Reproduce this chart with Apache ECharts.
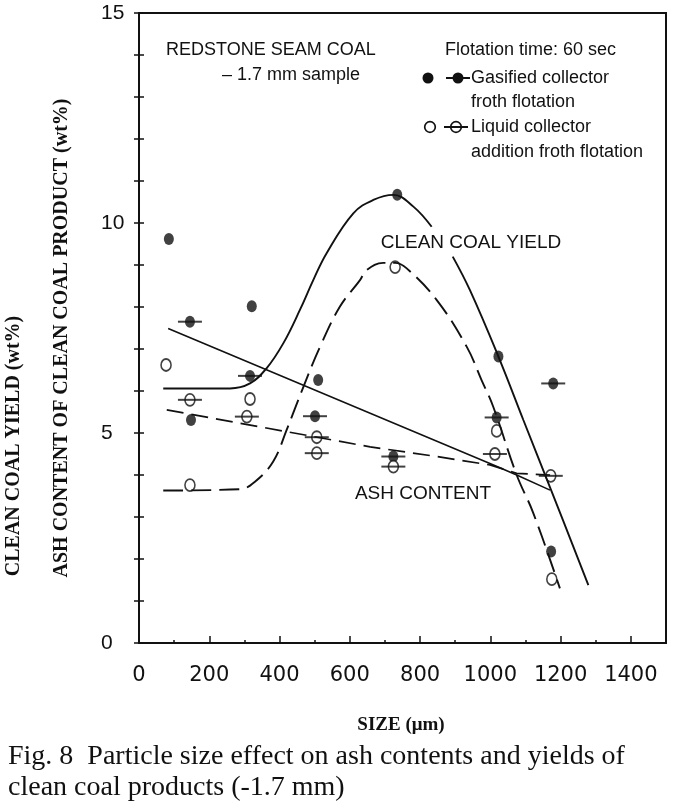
<!DOCTYPE html>
<html>
<head>
<meta charset="utf-8">
<script src="https://cdn.jsdelivr.net/npm/echarts@6/dist/echarts.min.js"></script>
<style>
html,body{margin:0;padding:0;background:#ffffff;}
#chart{width:675px;height:811px;}
</style>
</head>
<body>
<div id="chart"></div>
<script>
// ---- tick labels ----
const xTickLabels = [0, 200, 400, 600, 800, 1000, 1200, 1400];
const yTickLabels = [0, 5, 10, 15];

// ---- measured points: [size (um), value (wt%)] ----
// gasified collector (filled circles)
const gasYieldPts = [[85, 9.62], [148, 5.31], [321, 8.02], [510, 6.26], [735, 10.67], [1023, 6.82], [1173, 2.18]];
const gasAshPts = [[145, 7.65], [316, 6.36], [501, 5.40], [724, 4.44], [1018, 5.37], [1179, 6.18]];
// liquid collector (open circles)
const liqYieldPts = [[77, 6.62], [145, 3.76], [316, 5.81], [729, 8.95], [1018, 5.05], [1175, 1.52]];
const liqAshPts = [[145, 5.79], [307, 5.39], [506, 4.90], [506, 4.52], [724, 4.20], [1013, 4.50], [1172, 3.98]];

// ---- fitted curves ----
const gasYieldCurveA = [[69, 6.06], [259, 6.06], [316, 6.18], [363, 6.54], [411, 7.14], [458, 7.93], [496, 8.64], [534, 9.28], [610, 10.23], [667, 10.55], [724, 10.67], [781, 10.39], [833, 9.91]];
const gasYieldCurveB = [[893, 9.20], [942, 8.40], [1023, 6.82], [1094, 5.31], [1173, 3.64], [1279, 1.38]];
const liqYieldCurve = [[69, 3.63], [287, 3.66], [330, 3.84], [382, 4.32], [420, 5.07], [468, 6.10], [515, 7.05], [572, 8.01], [629, 8.64], [648, 8.88], [695, 9.05], [729, 9.05], [762, 8.92], [847, 8.17], [933, 7.05], [975, 6.26], [1008, 5.63], [1075, 4.00], [1122, 3.10], [1198, 1.30]];
const gasAshLine = [[83, 7.49], [1009, 4.24], [1075, 4.00], [1170, 3.64]];
const liqAshLine = [[79, 5.55], [658, 4.67], [847, 4.44], [999, 4.24], [1075, 4.04], [1170, 4.00]];

const INK = '#111111';
const chart = echarts.init(document.getElementById('chart'), null, {renderer: 'canvas'});

function curve(data, dashed, width) {
  return {
    type: 'line', data: data, xAxisIndex: 0, yAxisIndex: 0,
    symbol: 'none', smooth: 0.4, silent: true,
    lineStyle: {color: INK, width: width, type: dashed ? [20, 8] : 'solid'}
  };
}
function straight(data, dashed, width) {
  return {
    type: 'line', data: data, xAxisIndex: 0, yAxisIndex: 0,
    symbol: 'none', smooth: false, silent: true,
    lineStyle: {color: INK, width: width, type: dashed ? [17, 8] : 'solid'}
  };
}
function dots(data, filled) {
  return {
    type: 'scatter', data: data, xAxisIndex: 0, yAxisIndex: 0,
    symbol: 'circle', symbolSize: [10, 12], silent: true,
    itemStyle: filled ? {color: INK} : {color: '#ffffff', borderColor: INK, borderWidth: 1.7}
  };
}
function bars(data) {
  return {
    type: 'scatter', data: data, xAxisIndex: 0, yAxisIndex: 0,
    symbol: 'rect', symbolSize: [24, 2], silent: true,
    itemStyle: {color: INK}
  };
}

const sansTxt = {fontFamily: 'Liberation Sans', fontSize: 18, fill: INK};

const option = {
  animation: false,
  backgroundColor: '#ffffff',
  grid: {left: 139, right: 9, top: 13, bottom: 168, show: true, borderColor: INK, borderWidth: 2, backgroundColor: 'transparent'},
  xAxis: [
    {
      type: 'value', min: 0, max: 1500, interval: 100, position: 'bottom',
      axisLine: {show: true, lineStyle: {color: INK, width: 2}},
      axisTick: {show: true, inside: true, length: 3, lineStyle: {color: INK, width: 1.5}},
      axisLabel: {show: false}, splitLine: {show: false}
    },
    {
      type: 'value', min: 0, max: 1500, interval: 200, position: 'bottom',
      axisLine: {show: false},
      axisTick: {show: true, inside: true, length: 7, lineStyle: {color: INK, width: 1.5}},
      axisLabel: {
        show: true, margin: 22, color: INK, fontFamily: 'DejaVu Sans', fontSize: 21,
        showMaxLabel: false,
        formatter: function (v) { return xTickLabels.indexOf(v) >= 0 ? String(v) : ''; }
      },
      splitLine: {show: false}
    }
  ],
  yAxis: [
    {
      type: 'value', min: 0, max: 15, interval: 1, position: 'left',
      axisLine: {show: true, lineStyle: {color: INK, width: 2}},
      axisTick: {show: true, inside: true, length: 5, lineStyle: {color: INK, width: 1.5}},
      axisLabel: {
        show: true, margin: 38, align: 'left', color: INK, fontFamily: 'Liberation Sans', fontSize: 21,
        formatter: function (v) { return yTickLabels.indexOf(v) >= 0 ? String(v) : ''; }
      },
      splitLine: {show: false}
    },
    {
      type: 'value', min: 0, max: 15, interval: 1, position: 'right',
      axisLine: {show: true, lineStyle: {color: INK, width: 2}},
      axisTick: {show: true, inside: true, length: 5, lineStyle: {color: INK, width: 1.5}},
      axisLabel: {show: false}, splitLine: {show: false}
    }
  ],
  series: [
    curve(gasYieldCurveA, false, 1.9),
    curve(gasYieldCurveB, false, 1.9),
    curve(liqYieldCurve, true, 1.9),
    straight(gasAshLine, false, 1.6),
    straight(liqAshLine, true, 1.7),
    dots(gasYieldPts, true),
    dots(gasAshPts, true),
    bars(gasAshPts),
    dots(liqYieldPts, false),
    dots(liqAshPts, false),
    bars(liqAshPts)
  ],
  graphic: [
    // header text
    {type: 'text', left: 166, top: 41, style: Object.assign({text: 'REDSTONE SEAM COAL'}, sansTxt)},
    {type: 'text', left: 222, top: 66, style: Object.assign({text: '– 1.7 mm sample'}, sansTxt)},
    {type: 'text', left: 445, top: 41, style: Object.assign({text: 'Flotation time: 60 sec'}, sansTxt)},
    // legend: gasified
    {type: 'circle', shape: {cx: 428, cy: 78, r: 5.5}, style: {fill: INK}},
    {type: 'line', shape: {x1: 446, y1: 78, x2: 470, y2: 78}, style: {stroke: INK, lineWidth: 2}},
    {type: 'circle', shape: {cx: 458, cy: 78, r: 5.5}, style: {fill: INK}},
    {type: 'text', left: 471, top: 69, style: Object.assign({text: 'Gasified collector'}, sansTxt)},
    {type: 'text', left: 471, top: 93, style: Object.assign({text: 'froth flotation'}, sansTxt)},
    // legend: liquid
    {type: 'circle', shape: {cx: 430, cy: 127, r: 5.3}, style: {fill: '#ffffff', stroke: INK, lineWidth: 1.7}},
    {type: 'circle', shape: {cx: 456, cy: 127, r: 5.3}, style: {fill: '#ffffff', stroke: INK, lineWidth: 1.7}},
    {type: 'line', shape: {x1: 444, y1: 127, x2: 468, y2: 127}, style: {stroke: INK, lineWidth: 2}},
    {type: 'text', left: 471, top: 118, style: Object.assign({text: 'Liquid collector'}, sansTxt)},
    {type: 'text', left: 471, top: 143, style: Object.assign({text: 'addition froth flotation'}, sansTxt)},
    // curve labels
    {type: 'text', x: 471, y: 243, style: {text: 'CLEAN COAL YIELD', fontFamily: 'Liberation Sans', fontSize: 19, fill: INK, align: 'center', verticalAlign: 'middle'}},
    {type: 'text', x: 423, y: 494, style: {text: 'ASH CONTENT', fontFamily: 'Liberation Sans', fontSize: 19, fill: INK, align: 'center', verticalAlign: 'middle'}},
    // axis titles
    {type: 'text', x: 14, y: 446, rotation: Math.PI / 2, style: {text: 'CLEAN COAL YIELD (wt%)', fontFamily: 'Liberation Serif', fontWeight: 'bold', fontSize: 20, fill: INK, align: 'center', verticalAlign: 'middle'}},
    {type: 'text', x: 62, y: 338, rotation: Math.PI / 2, style: {text: 'ASH CONTENT OF CLEAN COAL PRODUCT (wt%)', fontFamily: 'Liberation Serif', fontWeight: 'bold', fontSize: 20, fill: INK, align: 'center', verticalAlign: 'middle'}},
    {type: 'text', x: 401, y: 725, style: {text: 'SIZE (μm)', fontFamily: 'Liberation Serif', fontWeight: 'bold', fontSize: 19, fill: INK, align: 'center', verticalAlign: 'middle'}},
    // caption
    {type: 'text', x: 8, y: 757, style: {text: 'Fig. 8  Particle size effect on ash contents and yields of', fontFamily: 'Liberation Serif', fontSize: 28, fill: INK, align: 'left', verticalAlign: 'middle'}},
    {type: 'text', x: 8, y: 788, style: {text: 'clean coal products (-1.7 mm)', fontFamily: 'Liberation Serif', fontSize: 28, fill: INK, align: 'left', verticalAlign: 'middle'}}
  ]
};
chart.setOption(option);
</script>
</body>
</html>
